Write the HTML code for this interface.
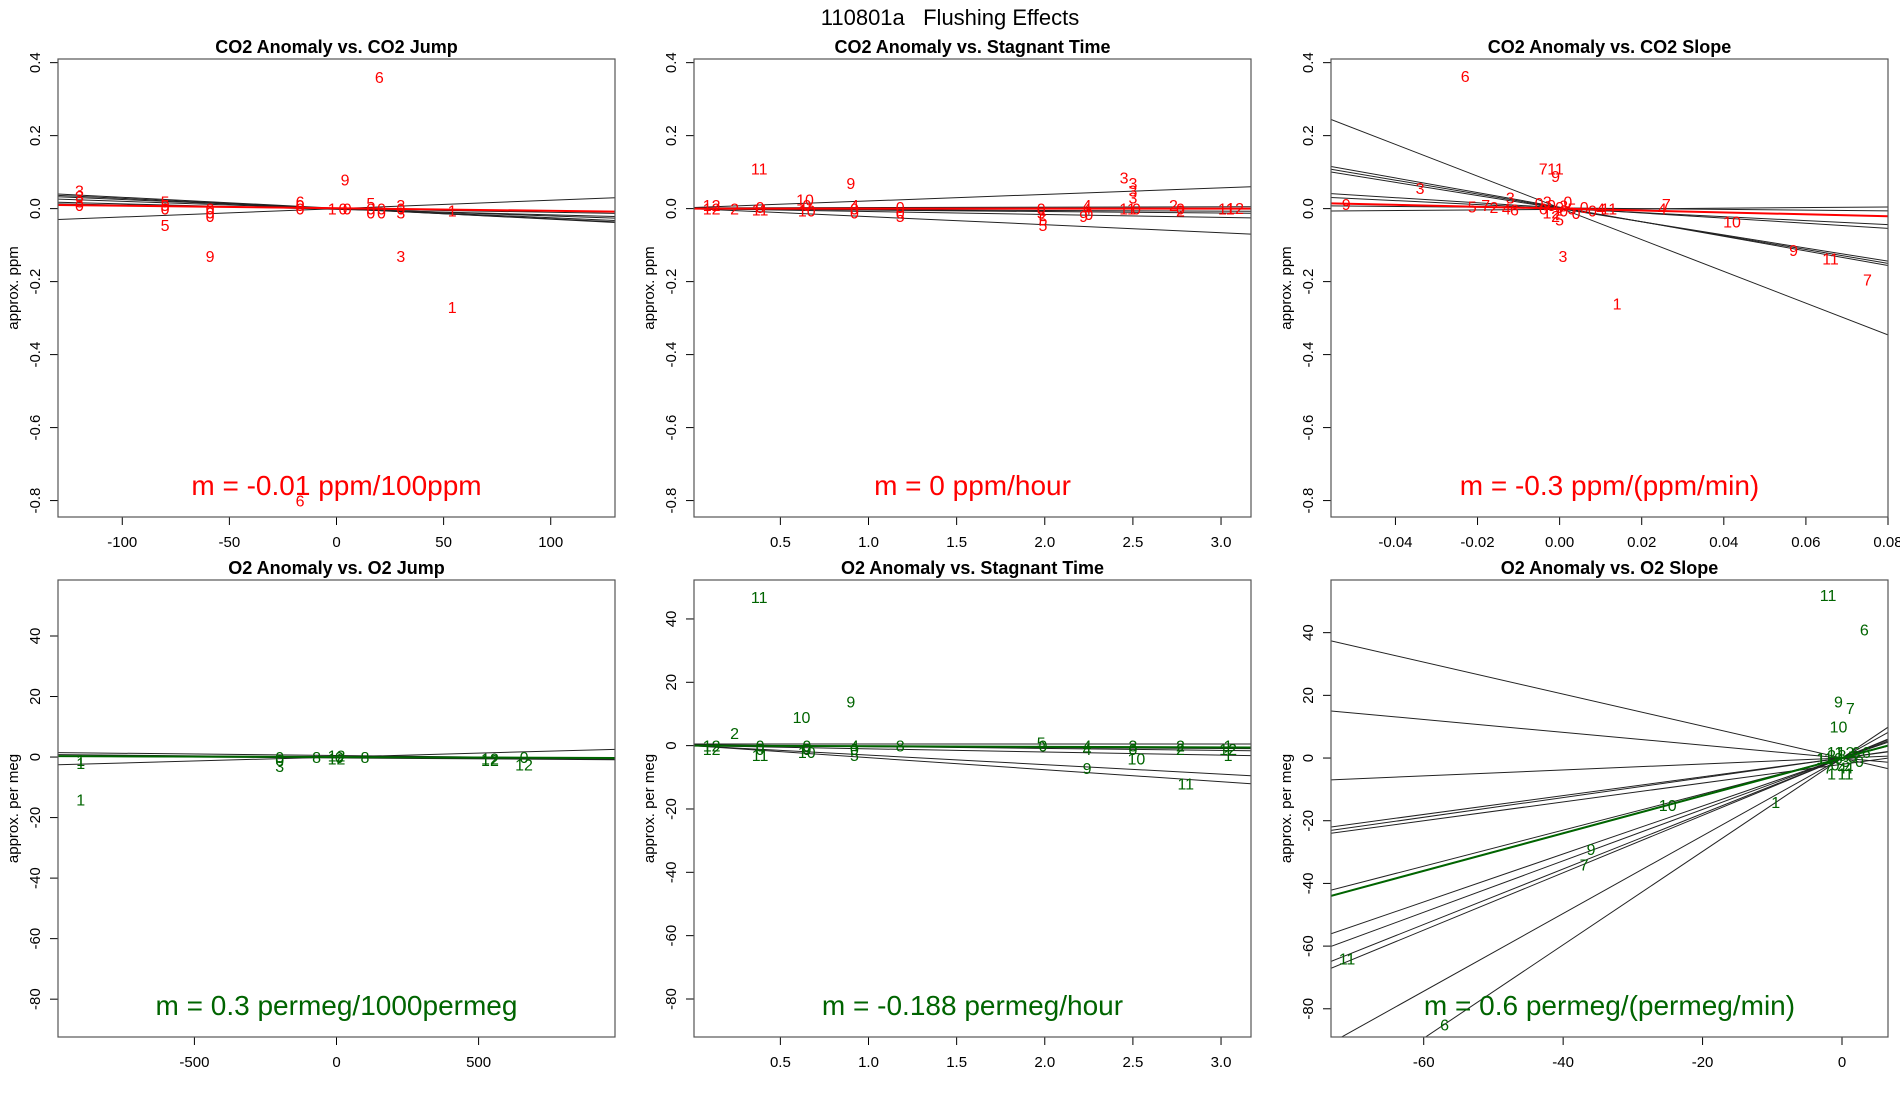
<!DOCTYPE html>
<html><head><meta charset="utf-8"><style>
html,body{margin:0;padding:0;background:#fff;}
svg{display:block;font-family:"Liberation Sans",sans-serif;}
</style></head><body>
<svg id="fig" width="1900" height="1100" viewBox="0 0 1900 1100" xmlns="http://www.w3.org/2000/svg">
<text x="950" y="25" text-anchor="middle" font-size="22" style="white-space:pre">110801a   Flushing Effects</text>
</svg>
<script>
// ---------- Panel 1: CO2 Anomaly vs. CO2 Jump ----------
const p1Points = [[-120,0.05,"3"],[-120,0.035,"3"],[-120,0.02,"3"],[-120,0.01,"0"],[-80,0.02,"5"],[-80,0.01,"5"],[-80,0.0,"0"],[-80,-0.045,"5"],
 [-59,0.0,"0"],[-59,-0.01,"0"],[-59,-0.02,"0"],[-59,-0.13,"9"],[-17,0.02,"6"],[-17,0.01,"0"],[-17,0.0,"0"],[-2,0,"1"],[3,0,"0"],[5,0,"0"],
 [4,0.08,"9"],[20,0.36,"6"],[16,0.015,"5"],[16,0.0,"0"],[16,-0.01,"0"],[21,0,"0"],[21,-0.01,"0"],[30,0.01,"3"],[30,0,"0"],[30,-0.01,"3"],
 [30,-0.13,"3"],[54,-0.005,"1"],[54,-0.27,"1"],[-17,-0.8,"6"]];
const p1Intercepts = [0.001,0.0,0.0,0.0,-0.002,0.0,0.0];
const p1Slopes = [-0.0003,-0.00028,-0.00025,-0.0002,-0.00015,-0.0001,0.00023];
const p1FitSlope = -0.00007, p1FitIntercept = 0.001;
const p1XTicks = [-100,-50,0,50,100];
const p1YTicks = [-0.8,-0.6,-0.4,-0.2,0.0,0.2,0.4];
// ---------- Panel 2: CO2 Anomaly vs. Stagnant Time ----------
const p2Points = [[0.11,0.01,"12"],[0.11,0.0,"12"],[0.24,0,"2"],[0.385,0.005,"0"],[0.385,-0.002,"11"],[0.38,0.11,"11"],[0.64,0.025,"10"],[0.65,0.01,"0"],[0.65,-0.005,"10"],
 [0.9,0.07,"9"],[0.92,0.01,"4"],[0.92,0.0,"0"],[0.92,-0.01,"0"],[1.18,0.005,"0"],[1.18,-0.01,"0"],[1.18,-0.02,"5"],[1.98,-0.01,"5"],[1.98,0,"0"],[1.99,-0.03,"5"],[1.99,-0.045,"5"],
 [2.24,0.01,"4"],[2.24,0.0,"4"],[2.22,-0.02,"9"],[2.25,-0.015,"0"],[2.45,0.085,"3"],[2.5,0.07,"3"],[2.5,0.05,"3"],[2.5,0.03,"3"],[2.47,0.0,"11"],[2.52,0.0,"0"],
 [2.73,0.01,"2"],[2.77,0.0,"0"],[2.77,-0.005,"2"],[3.03,0.0,"11"],[3.08,0.002,"12"]];
const p2Intercepts = [0.003,0.0,0.0,0.0,0.002,-0.001];
const p2Slopes = [0.018,-0.022,-0.008,-0.004,0.001,-0.002];
const p2FitSlope = 0.0, p2FitIntercept = 0.0;
const p2XTicks = [0.5,1.0,1.5,2.0,2.5,3.0];
// ---------- Panel 3: CO2 Anomaly vs. CO2 Slope ----------
const p3Points = [[-0.023,0.363,"6"],[-0.052,0.012,"9"],[-0.034,0.056,"3"],[-0.0213,0.006,"5"],[-0.018,0.01,"7"],[-0.016,0.004,"2"],[-0.013,0.0,"4"],[-0.011,-0.002,"6"],
 [-0.012,0.03,"3"],[-0.004,0.11,"7"],[-0.001,0.11,"11"],[-0.001,0.09,"9"],[-0.003,0.02,"3"],[-0.002,0.01,"0"],[0.0,0.005,"0"],[0.001,-0.005,"0"],[-0.002,-0.01,"12"],
 [-0.005,0.015,"0"],[-0.004,0.0,"6"],[0.002,0.02,"0"],[0.001,0.008,"3"],[0.004,-0.012,"0"],[-0.001,-0.02,"2"],
 [0.0,-0.03,"5"],[0.003,0.0,"5"],[0.006,0.005,"0"],[0.008,-0.005,"0"],[0.01,0.0,"4"],[0.012,0.0,"11"],[0.0008,-0.13,"3"],[0.014,-0.26,"1"],[0.026,0.012,"7"],
 [0.025,0.0,"4"],[0.042,-0.035,"10"],[0.057,-0.114,"9"],[0.066,-0.136,"11"],[0.075,-0.194,"7"]];
const p3Intercepts = [0.002,0.004,0.002,0.0,0.002,0.0,0.002,-0.002];
const p3Slopes = [-4.35,-2.0,-1.9,-1.8,-0.7,-0.55,-0.1,0.08];
const p3FitSlope = -0.26, p3FitIntercept = 0.0;
const p3XTicks = [-0.04,-0.02,0.00,0.02,0.04,0.06,0.08];
// ---------- Panel 4: O2 Anomaly vs. O2 Jump ----------
const p4Points = [[-900,-1,"1"],[-900,-2,"1"],[-900,-14,"1"],[-200,-3,"3"],[-200,0,"0"],[-200,-1,"0"],[-70,0,"8"],[0,0.5,"12"],[0,-0.5,"12"],[10,0,"0"],
 [100,0,"8"],[540,-0.5,"12"],[540,-1,"12"],[660,0,"0"],[660,-2.5,"12"]];
const p4Intercepts = [0.0,0.5,0.0,-0.3];
const p4Slopes = [0.0026,-0.001,-0.0008,-0.0006];
const p4FitSlope = -0.0003, p4FitIntercept = 0.0;
const p4XTicks = [-500,0,500];
const lowYTicks = [-80,-60,-40,-20,0,20,40];
// ---------- Panel 5: O2 Anomaly vs. Stagnant Time ----------
const p5Points = [[0.11,0,"12"],[0.11,-1,"12"],[0.24,4,"2"],[0.385,0,"0"],[0.385,-1,"0"],[0.385,-3,"11"],[0.38,47,"11"],[0.62,9,"10"],[0.65,0,"0"],[0.65,-1,"0"],
 [0.65,-2,"10"],[0.9,14,"9"],[0.92,0,"4"],[0.92,-1,"0"],[0.92,-3,"5"],[1.18,0,"8"],[1.98,1,"5"],[1.99,0,"0"],[2.24,0,"4"],[2.24,-1,"4"],[2.24,-7,"9"],
 [2.5,0,"3"],[2.5,-1,"0"],[2.52,-4,"10"],[2.77,0,"2"],[2.77,-1,"2"],[2.8,-12,"11"],[3.04,0,"1"],[3.04,-1,"12"],[3.04,-3,"1"]];
const p5Intercepts = [0.5,0.0,0.0,0.0,0.3,0.0];
const p5Slopes = [0.0,-3.0,-3.8,-1.0,-0.6,-0.3];
const p5FitSlope = -0.188, p5FitIntercept = 0.0;
// ---------- Panel 6: O2 Anomaly vs. O2 Slope ----------
const p6Points = [[-2,52,"11"],[3.2,41,"6"],[-0.5,18,"9"],[1.2,16,"7"],[-0.5,10,"10"],[-2.5,0,"11"],[-1,2,"11"],[0.5,2,"12"],[2,2,"6"],[3.5,2,"6"],[2.5,-1,"0"],
 [-1,-2,"0"],[0,-3,"4"],[0,-5,"1"],[1,-5,"1"],[-1.5,-5,"1"],[-3,0,"1"],[-0.5,0,"0"],[0.5,-1,"3"],[1.5,0.5,"5"],[-1.5,1,"2"],[0,1,"8"],[1,-3,"4"],[-2,-3,"7"],
 [-25,-15,"10"],[-9.5,-14,"1"],[-36,-29,"9"],[-37,-34,"7"],[-71,-64,"11"],[-57,-85,"6"]];
const p6Intercepts = [0,0,0,0,0,0,0,0,0,0,0,0,-2];
const p6Slopes = [-0.51,-0.205,0.095,0.30,0.315,0.575,0.765,0.82,0.885,0.915,1.24,1.49,0.3];
const p6FitSlope = 0.6, p6FitIntercept = 0.0;
const p6XTicks = [-60,-40,-20,0];

const svg = document.getElementById('fig');
const NS = 'http://www.w3.org/2000/svg';
function mk(tag, attrs, parent){const e=document.createElementNS(NS,tag);for(const k in attrs)e.setAttribute(k,attrs[k]);(parent||svg).appendChild(e);return e;}
function fmt(v,d){return d===undefined?String(v):v.toFixed(d);}

function panel(o){
  const g = mk('g',{});
  
  
  const xs = v => o.L + (v - o.xlim[0])/(o.xlim[1]-o.xlim[0])*(o.R-o.L);
  const ys = v => o.B - (v - o.ylim[0])/(o.ylim[1]-o.ylim[0])*(o.B-o.T);
  const cid = 'clip-' + o.name;
  const cp = mk('clipPath',{id:cid},g);
  mk('rect',{x:o.L,y:o.T,width:o.R-o.L,height:o.B-o.T},cp);
  const t = mk('text',{x:(o.L+o.R)/2,y:o.T-6,'text-anchor':'middle','font-size':18,'font-weight':'bold'},g);
  t.textContent = o.title;
  
  
  o.xticks.forEach(v=>{
    const x = xs(v);
    mk('line',{x1:x,x2:x,y1:o.B,y2:o.B+8,stroke:'#000','stroke-width':1},g);
    const tl = mk('text',{x:x,y:o.B+30,'text-anchor':'middle','font-size':15},g);
    tl.textContent = fmt(v,o.xd);
    
    
  });
  o.yticks.forEach(v=>{
    const y = ys(v);
    mk('line',{x1:o.L,x2:o.L-8,y1:y,y2:y,stroke:'#000','stroke-width':1},g);
    const tl = mk('text',{x:o.L-18,y:y,'text-anchor':'middle','font-size':15,transform:'rotate(-90 '+(o.L-18)+' '+y+')'},g);
    tl.textContent = fmt(v,o.yd);
    
    
  });
  const yt = mk('text',{x:o.L-40,y:(o.T+o.B)/2,'text-anchor':'middle','font-size':15,transform:'rotate(-90 '+(o.L-40)+' '+(o.T+o.B)/2+')'},g);
  yt.textContent = o.ylab;
  
  
  const pg = mk('g',{'clip-path':'url(#'+cid+')'},g);
  o.ints.forEach((b,i)=>{
    const m=o.slopes[i];
    const ln = mk('line',{x1:xs(o.xlim[0]),y1:ys(b+m*o.xlim[0]),x2:xs(o.xlim[1]),y2:ys(b+m*o.xlim[1]),stroke:'#222','stroke-width':1},pg);
    
    
  });
  o.pts.forEach(p=>{
    const tx = mk('text',{x:xs(p[0]),y:ys(p[1])+6,'text-anchor':'middle','font-size':16,fill:o.col},pg);
    tx.textContent = p[2];
    
    
  });
  const fl = mk('line',{x1:xs(o.xlim[0]),y1:ys(o.fb+o.fm*o.xlim[0]),x2:xs(o.xlim[1]),y2:ys(o.fb+o.fm*o.xlim[1]),stroke:o.col,'stroke-width':2},pg);
  
  
  const an = mk('text',{x:(o.L+o.R)/2,y:o.B-22,'text-anchor':'middle','font-size':28,fill:o.col},g);
  an.textContent = o.ann;
  
  
  const fr = mk('rect',{x:o.L,y:o.T,width:o.R-o.L,height:o.B-o.T,fill:'none',stroke:'#555','stroke-width':1.2},g);
  
  
}
const T1=59,B1=517,T2=580,B2=1037;
const C1=[58,615],C2=[694,1251],C3=[1331,1888];
const red='#ff0000', green='#006400';
panel({name:'co2-vs-jump',title:'CO2 Anomaly vs. CO2 Jump',L:C1[0],R:C1[1],T:T1,B:B1,xlim:[-130,130],ylim:[-0.845,0.41],xticks:p1XTicks,yticks:p1YTicks,yd:1,ylab:'approx. ppm',pts:p1Points,ints:p1Intercepts,slopes:p1Slopes,fm:p1FitSlope,fb:p1FitIntercept,col:red,ann:'m = -0.01 ppm/100ppm'});
panel({name:'co2-vs-stagnant-time',title:'CO2 Anomaly vs. Stagnant Time',L:C2[0],R:C2[1],T:T1,B:B1,xlim:[0.01,3.17],ylim:[-0.845,0.41],xticks:p2XTicks,xd:1,yticks:p1YTicks,yd:1,ylab:'approx. ppm',pts:p2Points,ints:p2Intercepts,slopes:p2Slopes,fm:p2FitSlope,fb:p2FitIntercept,col:red,ann:'m = 0 ppm/hour'});
panel({name:'co2-vs-slope',title:'CO2 Anomaly vs. CO2 Slope',L:C3[0],R:C3[1],T:T1,B:B1,xlim:[-0.0557,0.08],ylim:[-0.845,0.41],xticks:p3XTicks,xd:2,yticks:p1YTicks,yd:1,ylab:'approx. ppm',pts:p3Points,ints:p3Intercepts,slopes:p3Slopes,fm:p3FitSlope,fb:p3FitIntercept,col:red,ann:'m = -0.3 ppm/(ppm/min)'});
panel({name:'o2-vs-jump',title:'O2 Anomaly vs. O2 Jump',L:C1[0],R:C1[1],T:T2,B:B2,xlim:[-980,980],ylim:[-92.5,58.5],xticks:p4XTicks,yticks:lowYTicks,ylab:'approx. per meg',pts:p4Points,ints:p4Intercepts,slopes:p4Slopes,fm:p4FitSlope,fb:p4FitIntercept,col:green,ann:'m = 0.3 permeg/1000permeg'});
panel({name:'o2-vs-stagnant-time',title:'O2 Anomaly vs. Stagnant Time',L:C2[0],R:C2[1],T:T2,B:B2,xlim:[0.01,3.17],ylim:[-92,52.3],xticks:p2XTicks,xd:1,yticks:lowYTicks,ylab:'approx. per meg',pts:p5Points,ints:p5Intercepts,slopes:p5Slopes,fm:p5FitSlope,fb:p5FitIntercept,col:green,ann:'m = -0.188 permeg/hour'});
panel({name:'o2-vs-slope',title:'O2 Anomaly vs. O2 Slope',L:C3[0],R:C3[1],T:T2,B:B2,xlim:[-73.3,6.6],ylim:[-89,56.8],xticks:p6XTicks,yticks:lowYTicks,ylab:'approx. per meg',pts:p6Points,ints:p6Intercepts,slopes:p6Slopes,fm:p6FitSlope,fb:p6FitIntercept,col:green,ann:'m = 0.6 permeg/(permeg/min)'});
</script>
</body></html>
